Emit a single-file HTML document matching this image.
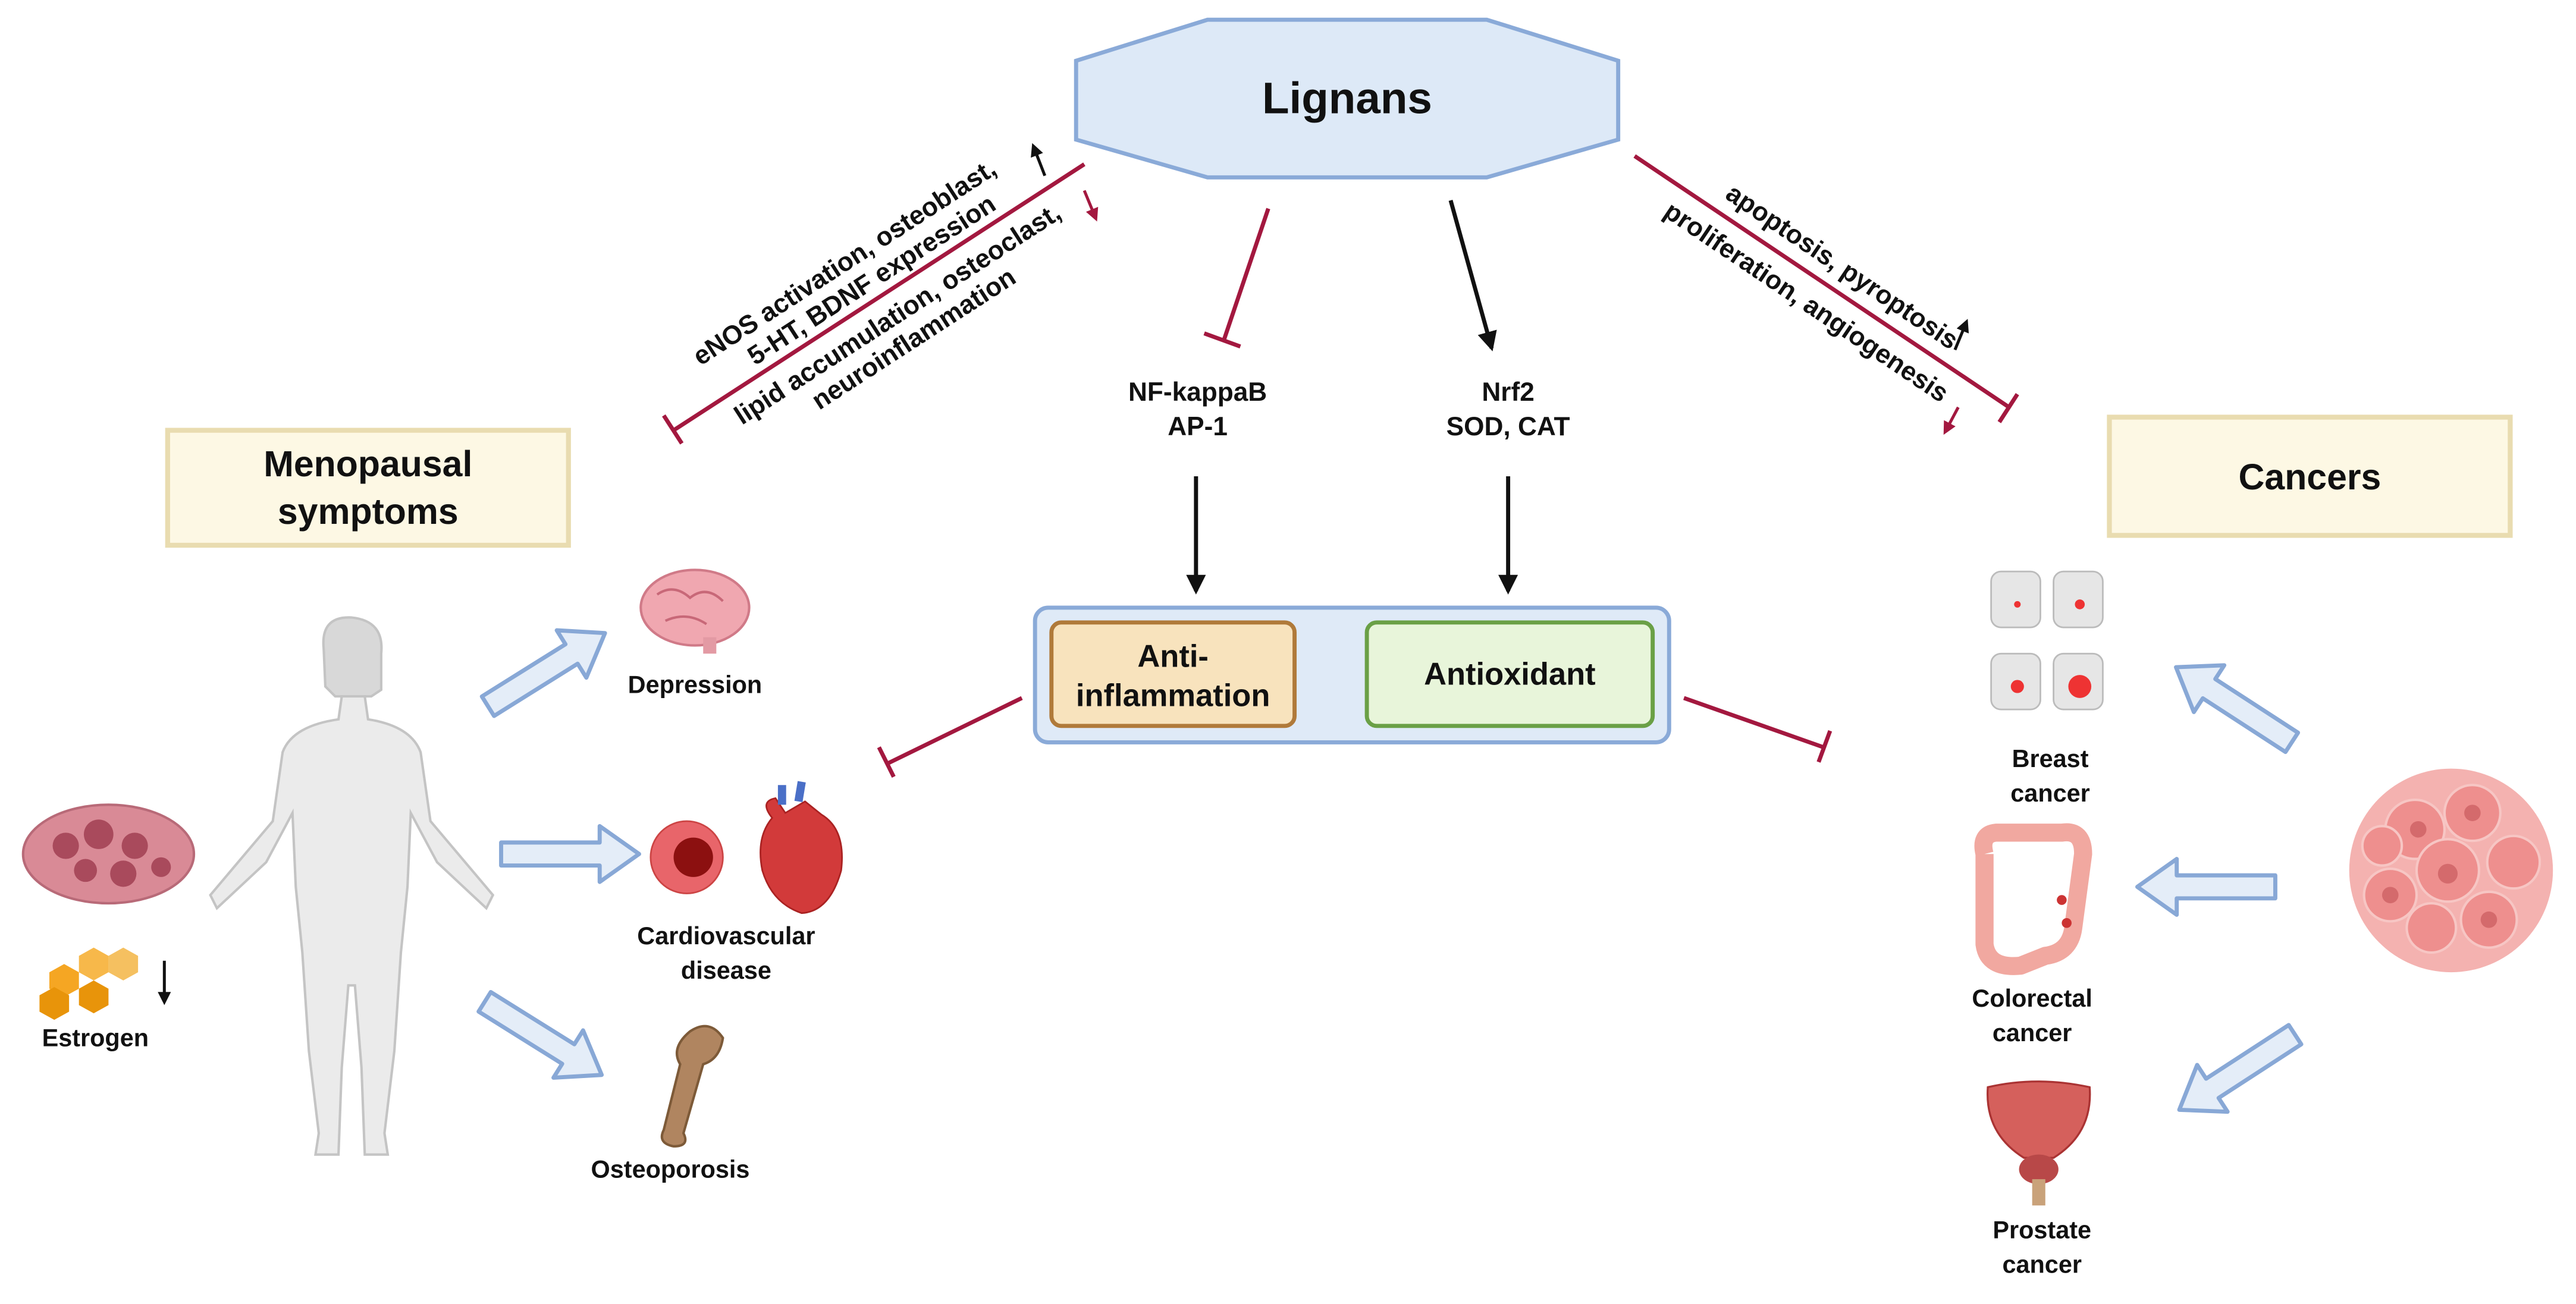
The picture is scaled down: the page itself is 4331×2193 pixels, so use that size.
<!DOCTYPE html>
<html><head><meta charset="utf-8"><style>
html,body{margin:0;padding:0;background:#fff;}
svg{display:block;}
text{font-family:"Liberation Sans",Arial,sans-serif;font-weight:bold;fill:#111;}
</style></head><body>
<svg width="4331" height="2193" viewBox="0 0 1568 794" xmlns="http://www.w3.org/2000/svg">
<defs>
<marker id="ah" markerWidth="8" markerHeight="8" refX="6" refY="4" orient="auto" markerUnits="userSpaceOnUse"><path d="M0,0 L8,4 L0,8 z" fill="#111"/></marker>
<marker id="ahs" markerWidth="12" markerHeight="12" refX="10" refY="6" orient="auto" markerUnits="userSpaceOnUse"><path d="M0,0 L12,6 L0,12 z" fill="#111"/></marker>
<marker id="ahr" markerWidth="8" markerHeight="8" refX="6" refY="4" orient="auto" markerUnits="userSpaceOnUse"><path d="M0,0 L8,4 L0,8 z" fill="#a3183f"/></marker>
<path id="ba" d="M0,-7 L60,-7 L60,-17 L84,0 L60,17 L60,7 L0,7 Z" fill="#e4edf8" stroke="#88a8d6" stroke-width="2.5" stroke-linejoin="round"/>
</defs>

<polygon points="655,37 655,85 735,108 905,108 985,85 985,37 905,12 735,12" fill="#dde9f7" stroke="#8aaad8" stroke-width="2.5"/>
<text x="820" y="69" font-size="27" text-anchor="middle">Lignans</text>

<rect x="102" y="262" width="244" height="70" fill="#fdf8e4" stroke="#e9dcb0" stroke-width="3"/>
<text x="224" y="290" font-size="22" text-anchor="middle">Menopausal</text>
<text x="224" y="319" font-size="22" text-anchor="middle">symptoms</text>
<rect x="1284" y="254" width="244" height="72" fill="#fdf8e4" stroke="#e9dcb0" stroke-width="3"/>
<text x="1406" y="298" font-size="22" text-anchor="middle">Cancers</text>

<line x1="772" y1="127" x2="745" y2="207" stroke="#a3183f" stroke-width="2.5"/>
<line x1="733" y1="203" x2="755" y2="211" stroke="#a3183f" stroke-width="2.5"/>
<line x1="883" y1="122" x2="908" y2="212" stroke="#111" stroke-width="2.5" marker-end="url(#ahs)"/>
<text x="729" y="244" font-size="16" text-anchor="middle">NF-kappaB</text>
<text x="729" y="265" font-size="16" text-anchor="middle">AP-1</text>
<text x="918" y="244" font-size="16" text-anchor="middle">Nrf2</text>
<text x="918" y="265" font-size="16" text-anchor="middle">SOD, CAT</text>
<line x1="728" y1="290" x2="728" y2="360" stroke="#111" stroke-width="2.5" marker-end="url(#ahs)"/>
<line x1="918" y1="290" x2="918" y2="360" stroke="#111" stroke-width="2.5" marker-end="url(#ahs)"/>

<rect x="630" y="370" width="386" height="82" rx="8" fill="#dfeaf7" stroke="#8aaad8" stroke-width="2.5"/>
<rect x="640" y="379" width="148" height="63" rx="6" fill="#f8e3bd" stroke="#b07a3a" stroke-width="2.5"/>
<text x="714" y="406" font-size="19" text-anchor="middle">Anti-</text>
<text x="714" y="430" font-size="19" text-anchor="middle">inflammation</text>
<rect x="832" y="379" width="174" height="63" rx="6" fill="#e8f5da" stroke="#6aa046" stroke-width="2.5"/>
<text x="919" y="417" font-size="19" text-anchor="middle">Antioxidant</text>

<line x1="622" y1="425" x2="540" y2="465" stroke="#a3183f" stroke-width="2.5"/>
<line x1="535" y1="455" x2="544" y2="473" stroke="#a3183f" stroke-width="2.5"/>
<line x1="1025" y1="425" x2="1110" y2="455" stroke="#a3183f" stroke-width="2.5"/>
<line x1="1114" y1="445" x2="1107" y2="464" stroke="#a3183f" stroke-width="2.5"/>

<line x1="660" y1="100" x2="410" y2="262" stroke="#a3183f" stroke-width="2.5"/>
<line x1="404" y1="253" x2="415" y2="270" stroke="#a3183f" stroke-width="2.5"/>
<g font-size="16" text-anchor="middle" transform="translate(535,181) rotate(-33)">
<text x="-6" y="-24">eNOS activation, osteoblast,</text>
<text x="2" y="-6">5-HT, BDNF expression</text>
<text x="4" y="20">lipid accumulation, osteoclast,</text>
<text x="4" y="38">neuroinflammation</text>
</g>
<line x1="636" y1="107" x2="629" y2="89" stroke="#111" stroke-width="1.8" marker-end="url(#ah)"/>
<line x1="660" y1="116" x2="667" y2="133" stroke="#a3183f" stroke-width="1.8" marker-end="url(#ahr)"/>

<line x1="995" y1="95" x2="1223" y2="248" stroke="#a3183f" stroke-width="2.5"/>
<line x1="1228" y1="240" x2="1217" y2="257" stroke="#a3183f" stroke-width="2.5"/>
<g font-size="16" text-anchor="middle" transform="translate(1110,172) rotate(34)">
<text x="4" y="-9">apoptosis, pyroptosis</text>
<text x="-2" y="21">proliferation, angiogenesis</text>
</g>
<line x1="1190" y1="213" x2="1197" y2="196" stroke="#111" stroke-width="1.8" marker-end="url(#ah)"/>
<line x1="1192" y1="248" x2="1184" y2="263" stroke="#a3183f" stroke-width="1.8" marker-end="url(#ahr)"/>

<g fill="#ebebeb" stroke="#c4c4c4" stroke-width="1.5">
<path d="M197,395 Q195,375 214,376 Q234,378 232,398 L232,420 L226,424 L204,424 L198,418 Z" fill="#d8d8d8"/>
<path d="M208,424 L222,424 L224,438 Q250,442 256,458 L262,500 L300,545 L296,553 L266,525 L250,495 L248,540 L244,580 L240,640 L234,690 L236,703 L222,703 L220,650 L216,600 L212,600 L208,650 L206,703 L192,703 L194,690 L188,640 L184,580 L180,540 L178,495 L162,525 L132,553 L128,545 L166,500 L172,458 Q178,442 206,438 Z"/>
</g>

<ellipse cx="66" cy="520" rx="52" ry="30" fill="#d98a96" stroke="#b86a78" stroke-width="1.5"/>
<g fill="#a94a5c"><circle cx="40" cy="515" r="8"/><circle cx="60" cy="508" r="9"/><circle cx="82" cy="515" r="8"/><circle cx="52" cy="530" r="7"/><circle cx="75" cy="532" r="8"/><circle cx="98" cy="528" r="6"/></g>
<g fill="#f5a623"><polygon points="30,592 39,587 48,592 48,602 39,607 30,602"/><polygon points="48,602 57,597 66,602 66,612 57,617 48,612" fill="#e8940a"/><polygon points="48,582 57,577 66,582 66,592 57,597 48,592" fill="#f7b84a"/><polygon points="66,582 75,577 84,582 84,592 75,597 66,592" fill="#f5c060"/><polygon points="24,606 33,601 42,606 42,616 33,621 24,616" fill="#e8940a"/></g>
<line x1="100" y1="585" x2="100" y2="610" stroke="#111" stroke-width="1.8" marker-end="url(#ah)"/>
<text x="58" y="637" font-size="15" text-anchor="middle">Estrogen</text>

<use href="#ba" transform="translate(297,430) rotate(-32)"/>
<use href="#ba" transform="translate(305,520) rotate(0)"/>
<use href="#ba" transform="translate(295,610) rotate(32)"/>

<ellipse cx="423" cy="370" rx="33" ry="23" fill="#f0a7b0" stroke="#d07a88" stroke-width="1.5"/>
<path d="M400,362 Q410,355 420,364 Q430,356 440,366 M405,378 Q418,372 430,380" fill="none" stroke="#c86878" stroke-width="1.5"/>
<rect x="428" y="388" width="8" height="10" fill="#e39aa4"/>
<text x="423" y="422" font-size="15" text-anchor="middle">Depression</text>

<circle cx="418" cy="522" r="22" fill="#e8656a" stroke="#c44" stroke-width="1"/>
<circle cx="422" cy="522" r="12" fill="#8c1010"/>
<path d="M470,498 Q462,488 472,486 L478,495 L490,488 L500,496 Q515,505 512,530 Q505,555 488,556 Q470,550 464,530 Q460,510 470,498 Z" fill="#d23a3a" stroke="#a22" stroke-width="1"/>
<path d="M476,490 L476,478 M486,488 L488,476" stroke="#4a6fc7" stroke-width="5"/>
<text x="442" y="575" font-size="15" text-anchor="middle">Cardiovascular</text>
<text x="442" y="596" font-size="15" text-anchor="middle">disease</text>

<path d="M420,628 Q432,620 440,632 Q438,645 428,648 L416,690 Q420,698 410,698 Q400,696 404,688 L414,648 Q408,638 420,628 Z" fill="#b08560" stroke="#7d5a38" stroke-width="1.5"/>
<text x="408" y="717" font-size="15" text-anchor="middle">Osteoporosis</text>

<use href="#ba" transform="translate(1395,452) rotate(-147)"/>
<use href="#ba" transform="translate(1385,540) rotate(180)"/>
<use href="#ba" transform="translate(1397,630) rotate(147)"/>

<g fill="#e6e6e6" stroke="#bbb" stroke-width="1">
<rect x="1212" y="348" width="30" height="34" rx="6"/><rect x="1250" y="348" width="30" height="34" rx="6"/>
<rect x="1212" y="398" width="30" height="34" rx="6"/><rect x="1250" y="398" width="30" height="34" rx="6"/>
</g>
<circle cx="1228" cy="368" r="2" fill="#e33"/><circle cx="1266" cy="368" r="3" fill="#e33"/>
<circle cx="1228" cy="418" r="4" fill="#e33"/><circle cx="1266" cy="418" r="7" fill="#e33"/>
<text x="1248" y="467" font-size="15" text-anchor="middle">Breast</text>
<text x="1248" y="488" font-size="15" text-anchor="middle">cancer</text>

<path d="M1208,520 L1208,575 Q1210,590 1230,588 L1245,582 Q1260,580 1262,565 L1268,520 Q1268,505 1255,507 L1215,507 Q1205,508 1208,520" fill="none" stroke="#f1a8a0" stroke-width="11" stroke-linejoin="round"/>
<circle cx="1255" cy="548" r="3" fill="#c33"/><circle cx="1258" cy="562" r="3" fill="#c33"/>
<text x="1237" y="613" font-size="15" text-anchor="middle">Colorectal</text>
<text x="1237" y="634" font-size="15" text-anchor="middle">cancer</text>

<path d="M1210,662 Q1240,655 1272,662 Q1274,690 1250,705 L1232,705 Q1208,690 1210,662 Z" fill="#d5605c" stroke="#a33" stroke-width="1.2"/>
<ellipse cx="1241" cy="712" rx="12" ry="9" fill="#b84848"/>
<rect x="1237" y="718" width="8" height="16" fill="#c9a27a"/>
<text x="1243" y="754" font-size="15" text-anchor="middle">Prostate</text>
<text x="1243" y="775" font-size="15" text-anchor="middle">cancer</text>

<circle cx="1492" cy="530" r="62" fill="#f4b2b0"/>
<g fill="#ee8f8e" stroke="#f7c6c4" stroke-width="1.5">
<circle cx="1470" cy="505" r="18"/><circle cx="1505" cy="495" r="17"/><circle cx="1530" cy="525" r="16"/><circle cx="1490" cy="530" r="19"/><circle cx="1455" cy="545" r="16"/><circle cx="1515" cy="560" r="17"/><circle cx="1480" cy="565" r="15"/><circle cx="1450" cy="515" r="12"/>
</g>
<g fill="#d46a6c"><circle cx="1472" cy="505" r="5"/><circle cx="1505" cy="495" r="5"/><circle cx="1490" cy="532" r="6"/><circle cx="1515" cy="560" r="5"/><circle cx="1455" cy="545" r="5"/></g>
</svg>
</body></html>
